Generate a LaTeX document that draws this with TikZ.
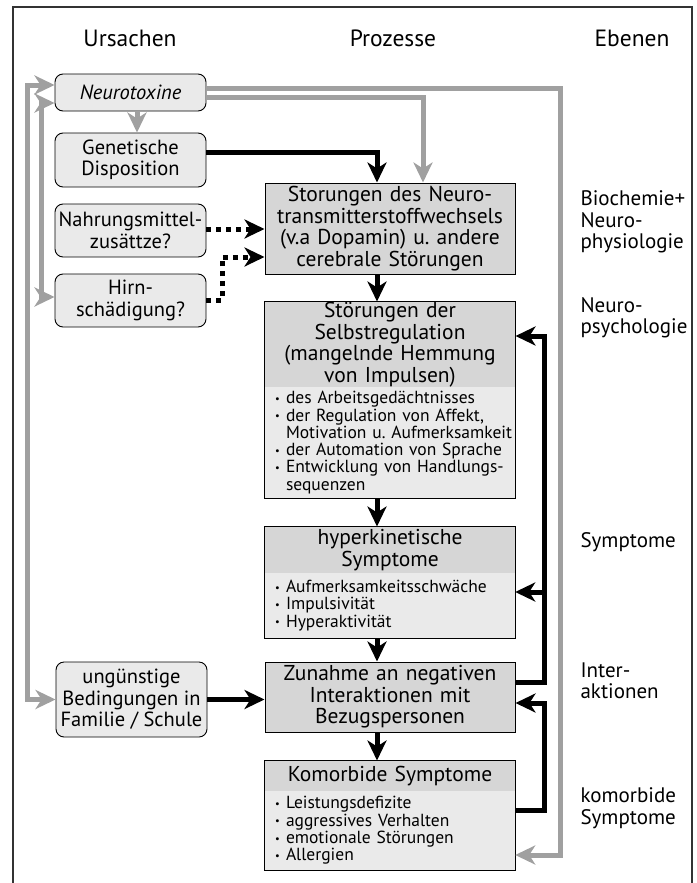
\documentclass[tikz,border=0pt]{standalone}
\usepackage{fontspec}
\setmainfont{PT Sans}
\usetikzlibrary{arrows.meta}
\frenchspacing

\definecolor{boxdark}{HTML}{D6D6D6}
\definecolor{boxlight}{HTML}{EAEAEA}
\definecolor{linegray}{HTML}{A0A0A0}
\newcommand{\listdot}[1]{\makebox[11pt][l]{\raisebox{1.5pt}{\scalebox{0.6}{\textbullet}}}\mbox{#1}}
\newcommand{\listgap}[1]{\hspace*{11pt}\mbox{#1}}

\begin{document}
\begin{tikzpicture}[x=1pt,y=-1pt,
  >={Stealth[length=20pt,width=19pt,inset=6pt]},
  cause/.style={draw,rounded corners=8pt,fill=boxlight,line width=0.9pt,minimum width=151pt,inner sep=0pt,align=center,font=\fontsize{20.5}{21.5}\selectfont},
  proc/.style={fill=boxdark,line width=1pt,minimum width=250pt,text width=246pt,inner sep=0pt,align=center,font=\fontsize{21.5}{21.5}\selectfont},
  plist/.style={fill=boxlight,minimum width=250pt,text width=230pt,inner sep=0pt,align=left,font=\fontsize{17.5}{17.3}\selectfont},
  head/.style={font=\fontsize{23.5}{26}\selectfont},
  level/.style={anchor=west,align=left,font=\fontsize{21}{21.5}\selectfont},
  blk/.style={line width=5pt,->},
  dots/.style={line width=5pt,dash pattern=on 5pt off 5pt,->},
  gline/.style={draw=linegray,line width=5pt}]
  \useasboundingbox (0,0) rectangle (696,883);
  \draw[line width=1.2pt,black!80] (13,883) |- (692,7) -- (692,883);

  % column heads
  \node[head] (ursachen) at (130,38) {Ursachen};
  \node[head] (prozesse) at (393,38) {Prozesse};
  \node[head] (ebenen) at (632,38) {Ebenen};

  % causes
  \node[cause,minimum height=37pt] (neuro) at (130.5,92.5) {\textit{Neurotoxine}};
  \node[cause,minimum height=54pt] (genet) at (130.5,160) {Genetische\\Disposition};
  \node[cause,minimum height=53pt] (nahrung) at (130.5,230.5) {Nahrungsmittel-\\zusättze?};
  \node[cause,minimum height=53pt] (hirn) at (130.5,300.5) {Hirn-\\schädigung?};
  \node[cause,minimum height=75pt] (umwelt) at (131.5,699.5) {ungünstige\\Bedingungen in\\Familie / Schule};

  % processes
  \node[proc,draw,minimum height=91pt] (stoer) at (390,228.5) {Storungen des Neuro-\\transmitterstoffwechsels\\(v.a Dopamin) u. andere\\cerebrale Störungen};
  \node[proc,minimum height=85pt] (selbst) at (390,344.5) {Störungen der\\Selbstregulation\\(mangelnde Hemmung\\von Impulsen)};
  \node[plist,minimum height=111pt] (selbstlist) at (390,442.5) {\listdot{des Arbeitsgedächtnisses}\\ \listdot{der Regulation von Affekt,}\\ \listgap{Motivation u. Aufmerksamkeit}\\ \listdot{der Automation von Sprache}\\ \listdot{Entwicklung von Handlungs-}\\ \listgap{sequenzen}};
  \draw[line width=1pt] (selbst.north west) rectangle (selbstlist.south east);
  \node[proc,minimum height=46pt] (hyper) at (390,550) {hyperkinetische\\Symptome};
  \node[plist,minimum height=65pt] (hyperlist) at (390,605.5) {\listdot{Aufmerksamkeitsschwäche}\\ \listdot{Impulsivität}\\ \listdot{Hyperaktivität}};
  \draw[line width=1pt] (hyper.north west) rectangle (hyperlist.south east);
  \node[proc,draw,minimum height=70pt] (zunahme) at (390,697) {Zunahme an negativen\\Interaktionen mit\\Bezugspersonen};
  \node[proc,minimum height=30pt] (komorb) at (390,776) {Komorbide Symptome};
  \node[plist,minimum height=79pt] (komorblist) at (390,830.5) {\listdot{Leistungsdefizite}\\ \listdot{aggressives Verhalten}\\ \listdot{emotionale Störungen}\\ \listdot{Allergien}};
  \draw[line width=1pt] (komorb.north west) rectangle (komorblist.south east);

  % levels
  \node[level] (biochem) at (577,222) {Biochemie+\\Neuro-\\physiologie};
  \node[level] (neuropsy) at (577,318) {Neuro-\\psychologie};
  \node[level] (sympt) at (577,542) {Symptome};
  \node[level] (inter) at (577,681) {Inter-\\aktionen};
  \node[level] (komsym) at (577,808) {komorbide\\Symptome};

  % gray connectors
  \coordinate (axis) at (377,0);
  \draw[gline,->] (neuro.south -| 137,0) -- (genet.north -| 137,0);
  \draw[gline,<->] (neuro.west |- 0,85) -| (27,699.5) -- (umwelt.west);
  \draw[gline,<->] (neuro.west |- 0,103) -| (41,297) -- (hirn.west |- 0,297);
  \draw[gline,->] (neuro.east |- 0,88) -| (560,855) -- (komorblist.east |- 0,855);
  \draw[gline,->] (neuro.east |- 0,97) -| (stoer.north -| 423,0);

  % black connectors
  \draw[blk] (genet.east |- 0,152) -| (stoer.north -| axis);
  \draw[dots] (nahrung.east |- 0,229) -- (stoer.west |- 0,229);
  \draw[dots] (hirn.east) -| (222,257) -- (stoer.west |- 0,257);
  \draw[blk] (stoer.south -| axis) -- (selbst.north -| axis);
  \draw[blk] (selbstlist.south -| axis) -- (hyper.north -| axis);
  \draw[blk] (hyperlist.south -| axis) -- (zunahme.north -| axis);
  \draw[blk] (zunahme.south -| axis) -- (komorb.north -| axis);
  \draw[blk] (umwelt.east) -- (zunahme.west |- umwelt.east);
  \draw[blk] (zunahme.east |- 0,682) -| (544,336) -- (selbst.east |- 0,336);
  \draw[blk] (544,592) -- (hyperlist.east |- 0,592);
  \draw[blk] (komorblist.east |- 0,810) -| (544,703) -- (zunahme.east |- 0,703);
\end{tikzpicture}
\end{document}
